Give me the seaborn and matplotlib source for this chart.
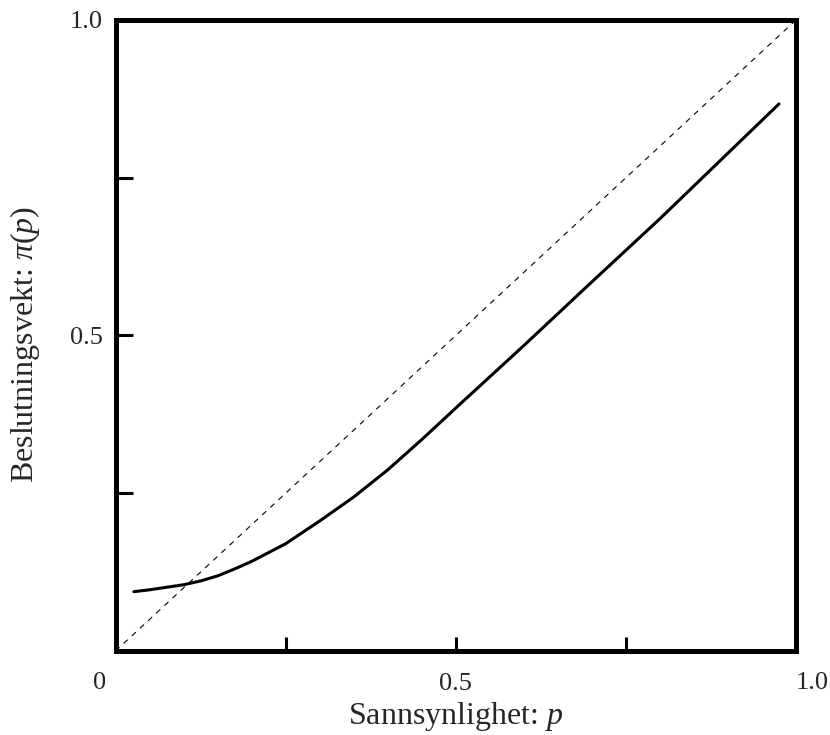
import numpy as np
import pandas as pd
import matplotlib
matplotlib.use("Agg")
import matplotlib.pyplot as plt
import seaborn as sns

# values
p_vals = [0.027, 0.05, 0.075, 0.10, 0.125, 0.15, 0.175, 0.20, 0.25, 0.30,
          0.35, 0.40, 0.45, 0.50, 0.60, 0.70, 0.80, 0.90, 0.975]
pi_vals = [0.094, 0.097, 0.101, 0.105, 0.111, 0.119, 0.130, 0.142, 0.170, 0.206,
           0.244, 0.287, 0.335, 0.385, 0.484, 0.585, 0.685, 0.789, 0.867]
diag = [0.0, 1.0]

xtick_pos = [0.25, 0.5, 0.75]
xtick_lab = ["", "0.5", ""]
ytick_pos = [0.25, 0.5, 0.75, 1.0]
ytick_lab = ["", "0.5", "", "1.0"]

sns.set_style("white")
plt.rcParams['font.family'] = ['Liberation Serif', 'DejaVu Serif']
plt.rcParams['mathtext.fontset'] = 'custom'
plt.rcParams['mathtext.rm'] = 'Liberation Serif'
plt.rcParams['mathtext.it'] = 'Liberation Serif:italic'

fig = plt.figure(figsize=(8.3, 7.35), dpi=100)
ax = fig.add_axes([115.5 / 830, 1 - 651 / 735, 680.5 / 830, 631 / 735])

df = pd.DataFrame({"p": p_vals, "pi": pi_vals})
sns.lineplot(data=df, x="p", y="pi", ax=ax, color="black", linewidth=2.2)
sns.lineplot(x=diag, y=diag, ax=ax, color="black", linewidth=0.8,
             linestyle=(0, (5, 5)))

ax.set_xlim(0, 1)
ax.set_ylim(0, 1)
ax.margins(0)

for s in ax.spines.values():
    s.set_linewidth(3.6)
    s.set_color("black")

ax.set_xticks(xtick_pos)
ax.set_xticklabels(xtick_lab)
ax.set_yticks(ytick_pos)
ax.set_yticklabels(ytick_lab)
ax.tick_params(axis="both", direction="in", width=2.2, color="black",
               labelsize=19, bottom=True, left=True)
ax.tick_params(axis="x", length=10, pad=16)
ax.tick_params(axis="y", length=12, pad=9)

# corner labels of the x axis
ax.text(-0.023, -0.0507, "0", transform=ax.transAxes, ha="center",
        va="center", fontsize=19)
ax.text(1.024, -0.0507, "1.0", transform=ax.transAxes, ha="center",
        va="center", fontsize=19)

ax.set_xlabel("Sannsynlighet: $p$", fontsize=23)
ax.set_ylabel(r"Beslutningsvekt: $\pi(p)$", fontsize=23)
ax.xaxis.set_label_coords(0.5, -0.078)
ax.yaxis.set_label_coords(-0.108, 0.485)

fig.savefig("out.png", dpi=100)
